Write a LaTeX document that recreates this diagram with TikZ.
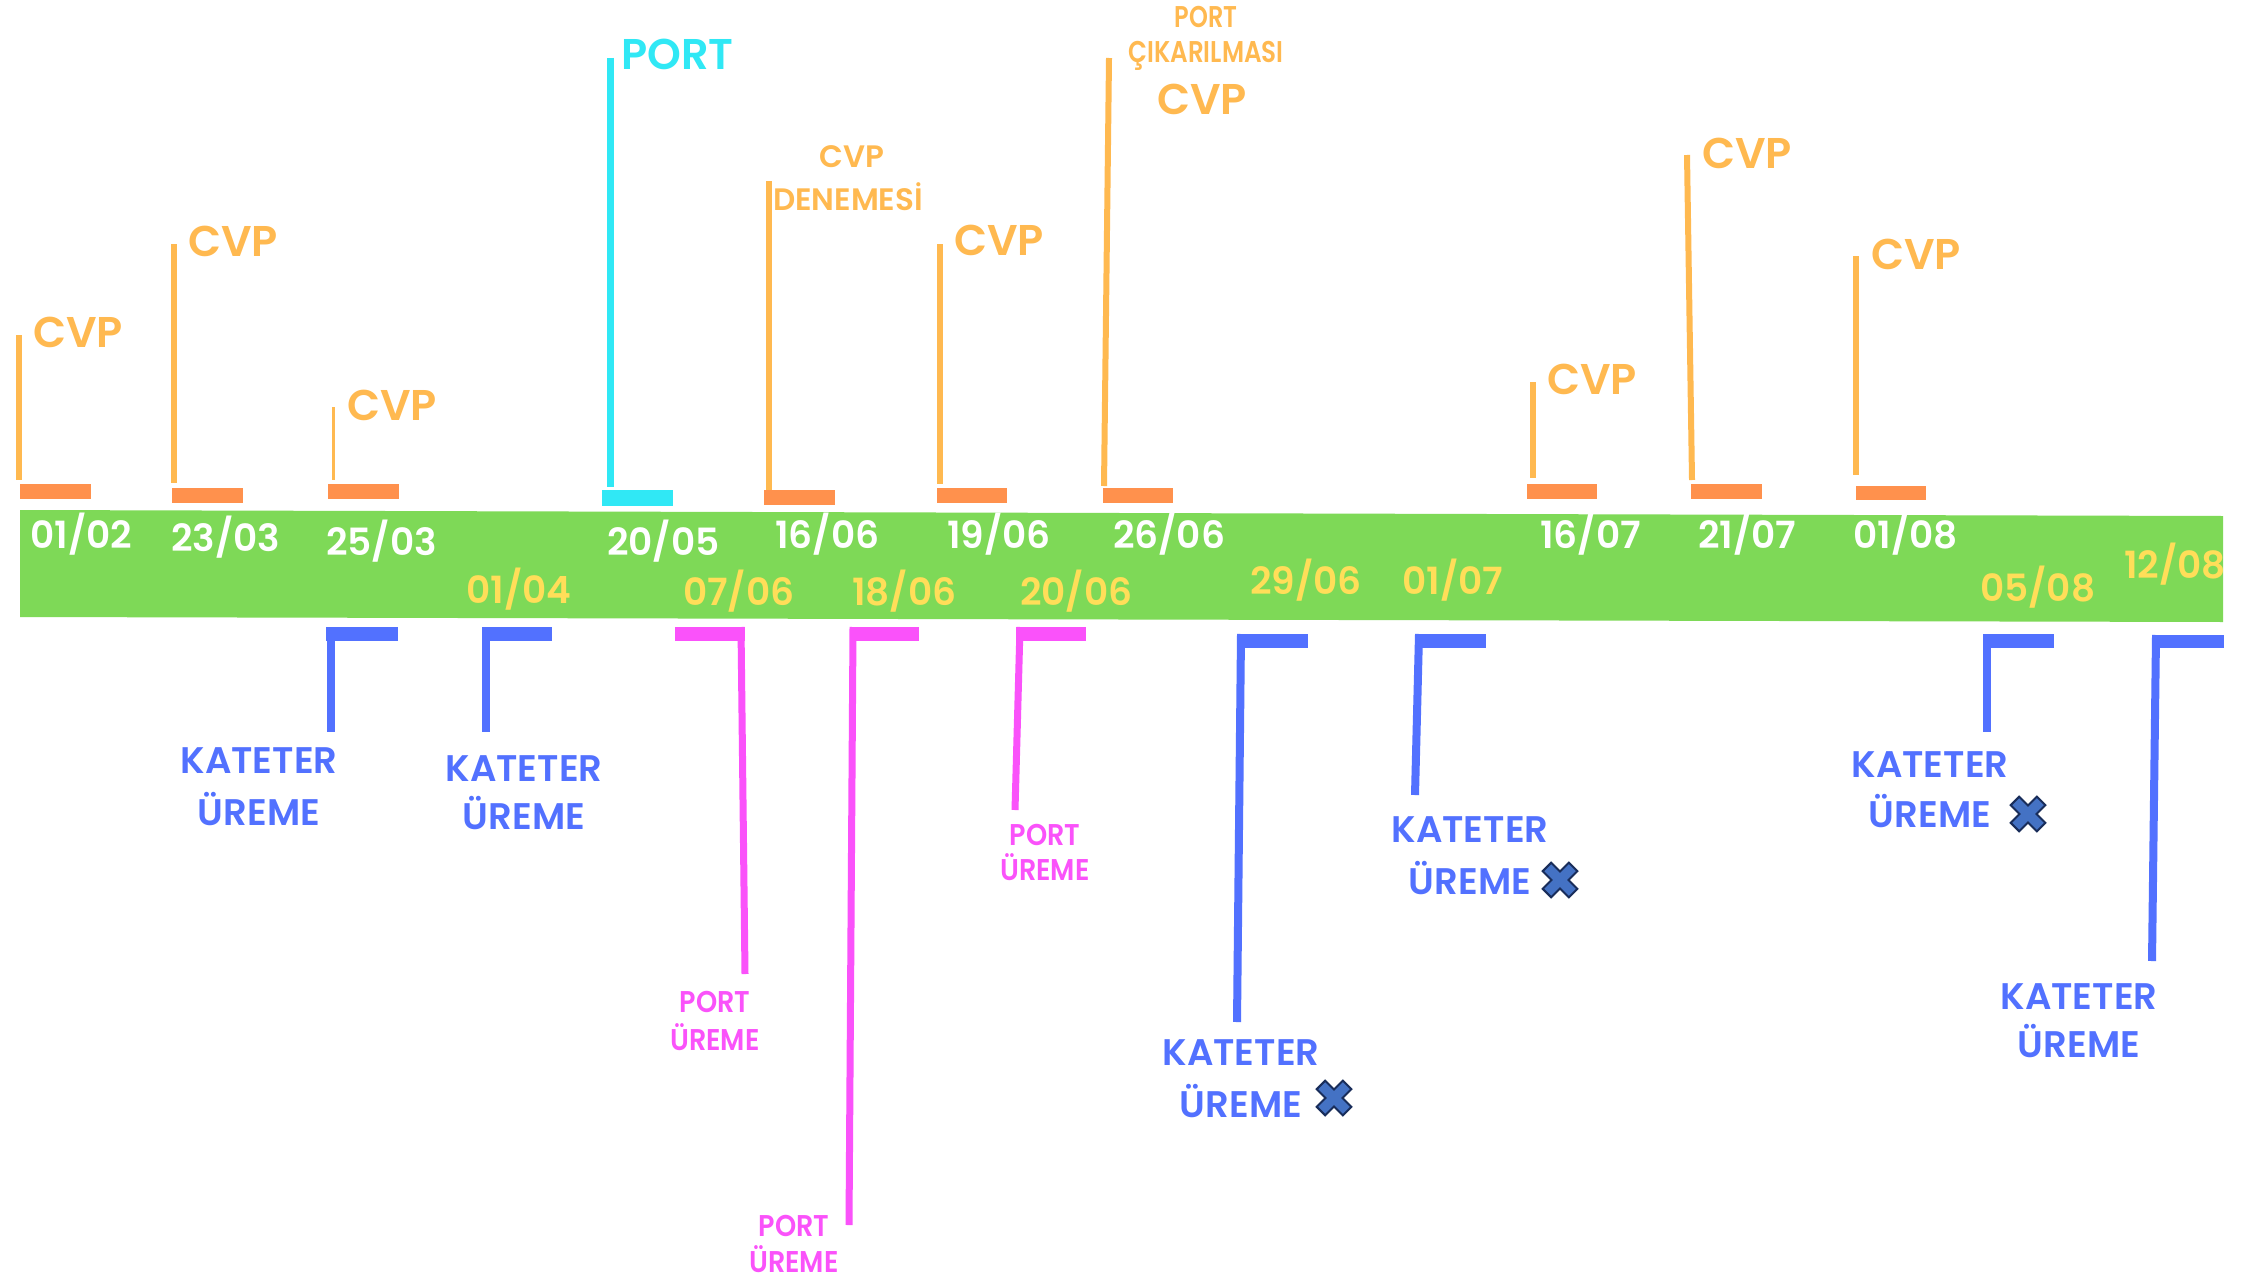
\documentclass[tikz,border=0pt]{standalone}
\usepackage{fontspec}
\usepackage{graphicx}
\setmainfont{Poppins}
\newfontfamily\pfont{Poppins SemiBold}
\definecolor{lorange}{RGB}{255,185,80}
\definecolor{dorange}{RGB}{255,145,77}
\definecolor{pcyan}{RGB}{48,232,245}
\definecolor{tgreen}{RGB}{126,217,87}
\definecolor{ydate}{RGB}{255,222,89}
\definecolor{kblue}{RGB}{82,113,255}
\definecolor{pmag}{RGB}{250,82,250}
\definecolor{xfill}{RGB}{68,114,196}
\definecolor{xline}{RGB}{25,45,90}
\newcommand\hsq[2]{\scalebox{#1}[1]{#2}}
\begin{document}
\begin{tikzpicture}[x=1pt,y=-1pt,
  cvp/.style={anchor=base west, inner sep=0pt, text=lorange, font=\pfont\fontsize{43}{50}\selectfont},
  wdate/.style={anchor=base west, inner sep=0pt, text=white, font=\pfont\fontsize{37.5}{44}\selectfont},
  ydatest/.style={anchor=base west, inner sep=0pt, text=ydate, font=\pfont\fontsize{37.5}{44}\selectfont},
  smallo/.style={anchor=base, inner sep=0pt, text=lorange, font=\pfont\fontsize{30}{36}\selectfont},
  smallm/.style={anchor=base, inner sep=0pt, text=pmag, font=\pfont\fontsize{30}{36}\selectfont},
  kat/.style={anchor=base, inner sep=0pt, text=kblue, font=\pfont\fontsize{37}{44}\selectfont},
  oline/.style={draw=lorange, line width=6pt},
  obar/.style={fill=dorange},
  bline/.style={draw=kblue, line width=8pt},
  mline/.style={draw=pmag, line width=7pt},
  xmark/.pic={\filldraw[fill=xfill, draw=xline, line width=2pt, rotate=45]
    (6,18.5) -- (6,6) -- (18.5,6) -- (18.5,-6) -- (6,-6) -- (6,-18.5) -- (-6,-18.5) -- (-6,-6)
    -- (-18.5,-6) -- (-18.5,6) -- (-6,6) -- (-6,18.5) -- cycle;}
]
\useasboundingbox (0,0) rectangle (2242,1279);
\fill[white] (0,0) rectangle (2242,1279);

% green timeline bar
\fill[tgreen] (20,510) -- (2223,516) -- (2223,622) -- (20,617) -- cycle;

% ---- upper events ----
\draw[oline] (19,335) -- (19,480);
\fill[obar] (20,484) rectangle (91,499);
\node[cvp] (c1) at (33,347) {CVP};

\draw[oline] (174,244) -- (174,483);
\fill[obar] (172,488) rectangle (243,503);
\node[cvp] (c2) at (188,256) {CVP};

\draw[draw=lorange, line width=3pt] (333,407) -- (333,480);
\fill[obar] (328,484) rectangle (399,499);
\node[cvp] (c3) at (347,420) {CVP};

\draw[draw=pcyan, line width=7pt] (610,58) -- (610,487);
\fill[pcyan] (602,490) rectangle (673,506);
\node[cvp, text=pcyan] (p1) at (621,70) {PORT};

\draw[oline] (769,181) -- (769,505);
\fill[obar] (764,490) rectangle (835,505);
\node[smallo, font=\pfont\fontsize{31}{36}\selectfont] (d1) at (852,167) {CVP};
\node[smallo, font=\pfont\fontsize{31}{36}\selectfont] (d2) at (848,210) {DENEMESİ};

\draw[oline] (940,244) -- (940,484);
\fill[obar] (937,488) rectangle (1007,503);
\node[cvp] (c4) at (954,255) {CVP};

\draw[oline] (1109,58) -- (1104,486);
\fill[obar] (1103,488) rectangle (1173,503);
\node[smallo] (r1) at (1206,28) {\hsq{0.8}{PORT}};
\node[smallo] (r2) at (1206,63) {\hsq{0.82}{ÇIKARILMASI}};
\node[cvp] (c5) at (1157,114) {CVP};

\draw[oline] (1533,382) -- (1533,478);
\fill[obar] (1527,484) rectangle (1597,499);
\node[cvp] (c6) at (1547,394) {CVP};

\draw[oline] (1687,155) -- (1692,480);
\fill[obar] (1691,484) rectangle (1762,499);
\node[cvp] (c7) at (1702,168) {CVP};

\draw[oline] (1856,256) -- (1856,475);
\fill[obar] (1856,486) rectangle (1926,500);
\node[cvp] (c8) at (1871,269) {CVP};

% ---- dates on bar ----
\node[wdate] (w1) at (30,548) {01/02};
\node[wdate] (w2) at (171,551) {23/03};
\node[wdate] (w3) at (326,555) {25/03};
\node[wdate] (w4) at (607,555) {20/05};
\node[wdate] (w5) at (775,548) {16/06};
\node[wdate] (w6) at (947,548) {19/06};
\node[wdate] (w7) at (1113,548) {26/06};
\node[wdate] (w8) at (1540,548) {16/07};
\node[wdate] (w9) at (1698,548) {21/07};
\node[wdate] (w10) at (1853,548) {01/08};

\node[ydatest] (y1) at (466,603) {01/04};
\node[ydatest] (y2) at (683,605) {07/06};
\node[ydatest] (y3) at (852,605) {18/06};
\node[ydatest] (y4) at (1020,605) {20/06};
\node[ydatest] (y5) at (1250,594) {29/06};
\node[ydatest] (y6) at (1402,594) {01/07};
\node[ydatest] (y7) at (1980,601) {05/08};
\node[ydatest] (y8) at (2124,578) {12/08};

% ---- lower events ----
\fill[kblue] (326,627) rectangle (398,641);
\draw[bline] (331,627) -- (331,732);
\node[kat] (k1a) at (259,773) {KATETER};
\node[kat] (k1b) at (259,825) {ÜREME};

\fill[kblue] (482,627) rectangle (552,641);
\draw[bline] (486,627) -- (486,732);
\node[kat] (k2a) at (524,781) {KATETER};
\node[kat] (k2b) at (524,829) {ÜREME};

\fill[pmag] (675,627) rectangle (745,641);
\draw[mline] (741,627) -- (745,974);
\node[smallm] (m1a) at (715,1012) {\hsq{0.9}{PORT}};
\node[smallm] (m1b) at (715,1050) {\hsq{0.9}{ÜREME}};

\fill[pmag] (850,627) rectangle (919,641);
\draw[mline] (853,627) -- (849,1225);
\node[smallm] (m2a) at (794,1236) {\hsq{0.9}{PORT}};
\node[smallm] (m2b) at (794,1272) {\hsq{0.9}{ÜREME}};

\fill[pmag] (1016,627) rectangle (1086,641);
\draw[mline] (1020,627) -- (1015,810);
\node[smallm] (m3a) at (1045,845) {\hsq{0.9}{PORT}};
\node[smallm] (m3b) at (1045,880) {\hsq{0.9}{ÜREME}};

\fill[kblue] (1237,634) rectangle (1308,648);
\draw[bline] (1241,634) -- (1237,1022);
\node[kat] (k3a) at (1241,1065) {KATETER};
\node[kat] (k3b) at (1241,1117) {ÜREME};
\pic at (1334,1098) {xmark};

\fill[kblue] (1415,634) rectangle (1486,648);
\draw[bline] (1419,634) -- (1415,795);
\node[kat] (k4a) at (1470,842) {KATETER};
\node[kat] (k4b) at (1470,894) {ÜREME};
\pic at (1560,880) {xmark};

\fill[kblue] (1983,634) rectangle (2054,648);
\draw[bline] (1987,634) -- (1987,732);
\node[kat] (k5a) at (1930,777) {KATETER};
\node[kat] (k5b) at (1930,827) {ÜREME};
\pic at (2028,814) {xmark};

\fill[kblue] (2152,635) rectangle (2224,648);
\draw[bline] (2156,635) -- (2152,961);
\node[kat] (k6a) at (2079,1009) {KATETER};
\node[kat] (k6b) at (2079,1057) {ÜREME};
\end{tikzpicture}
\end{document}
